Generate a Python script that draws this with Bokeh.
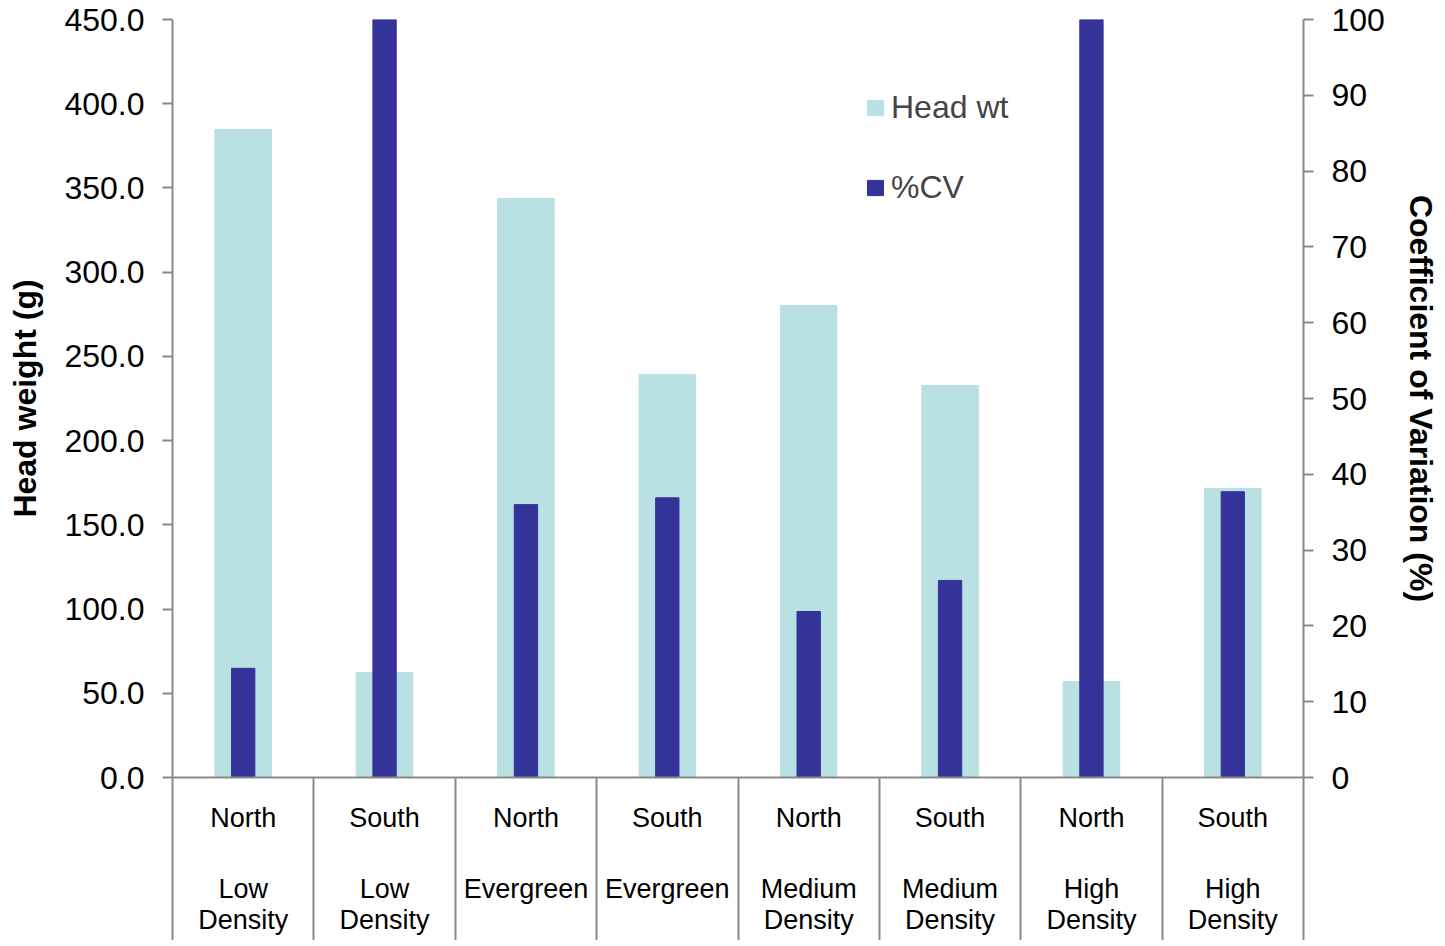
from bokeh.plotting import figure
from bokeh.models import (Range1d, LinearAxis, FixedTicker, NumeralTickFormatter,
                          Legend, LegendItem, ColumnDataSource)
from bokeh.embed import file_html
from bokeh.resources import INLINE

# ---- data ----
regions = ["North", "South", "North", "South", "North", "South", "North", "South"]
groups = ["Low\nDensity", "Low\nDensity", "Evergreen", "Evergreen",
          "Medium\nDensity", "Medium\nDensity", "High\nDensity", "High\nDensity"]
head_wt = [384.7, 62.3, 343.7, 239.3, 280.2, 232.7, 57.0, 171.6]
cv_pct = [14.4, 120.0, 36.0, 36.9, 21.9, 26.0, 120.0, 37.7]
left_ticks = [0, 50, 100, 150, 200, 250, 300, 350, 400, 450]
right_ticks = [0, 10, 20, 30, 40, 50, 60, 70, 80, 90, 100]

FONT = "Liberation Sans"
GRAY = "#898989"
HEAD_COLOR = "#B9E0E3"
CV_COLOR = "#333399"

n = len(regions)
centers = [i + 0.5 for i in range(n)]
bounds = list(range(n + 1))

src = ColumnDataSource(dict(x=centers, head=head_wt, cv=cv_pct))

W, H = 1442, 940
p = figure(width=W, height=H, output_backend="svg", toolbar_location=None,
           x_range=Range1d(0, n), y_range=Range1d(0, 450),
           x_axis_type=None, y_axis_type=None,
           min_border_left=172, min_border_right=W - 1303, min_border_top=19,
           min_border_bottom=H - 777)
p.extra_y_ranges = {"cv": Range1d(0, 100)}
p.outline_line_color = None
p.background_fill_color = "white"

r1 = p.vbar(x="x", top="head", width=0.40, source=src, color=HEAD_COLOR)
r2 = p.vbar(x="x", top="cv", width=0.165, source=src, color=CV_COLOR, y_range_name="cv")

def style_axis(ax):
    ax.axis_line_color = GRAY
    ax.axis_line_width = 2
    ax.major_tick_line_color = GRAY
    ax.major_tick_line_width = 2
    ax.minor_tick_line_color = None
    ax.major_label_text_font = FONT
    ax.major_label_text_color = "black"
    ax.axis_label_text_font = FONT
    ax.axis_label_text_font_style = "bold"
    ax.axis_label_text_color = "black"

left = LinearAxis(ticker=FixedTicker(ticks=left_ticks),
                  formatter=NumeralTickFormatter(format="0.0"),
                  axis_label="Head weight (g)")
style_axis(left)
left.major_tick_out = 10
left.major_tick_in = 0
left.major_label_standoff = 18
left.major_label_text_font_size = "32px"
left.axis_label_text_font_size = "32px"
left.axis_label_standoff = 18
p.add_layout(left, "left")

right = LinearAxis(y_range_name="cv", ticker=FixedTicker(ticks=right_ticks),
                   axis_label="Coefficient of Variation (%)")
style_axis(right)
right.major_tick_out = 10
right.major_tick_in = 0
right.major_label_standoff = 18
right.major_label_text_font_size = "32px"
right.axis_label_text_font_size = "32px"
right.axis_label_standoff = 15
p.add_layout(right, "right")

bottom1 = LinearAxis(ticker=FixedTicker(ticks=centers, minor_ticks=bounds),
                     major_label_overrides={c: r for c, r in zip(centers, regions)})
style_axis(bottom1)
bottom1.major_tick_line_color = None
bottom1.major_tick_out = 0
bottom1.major_tick_in = 0
bottom1.minor_tick_line_color = GRAY
bottom1.minor_tick_line_width = 2
bottom1.minor_tick_out = 175
bottom1.minor_tick_in = 0
bottom1.major_label_standoff = -150
bottom1.major_label_text_font_size = "27px"
p.add_layout(bottom1, "below")

bottom2 = LinearAxis(ticker=FixedTicker(ticks=centers, minor_ticks=[]),
                     major_label_overrides={c: g for c, g in zip(centers, groups)})
style_axis(bottom2)
bottom2.axis_line_color = None
bottom2.major_tick_line_color = None
bottom2.major_tick_out = 0
bottom2.major_tick_in = 0
bottom2.major_label_standoff = 38
bottom2.major_label_text_font_size = "27px"
bottom2.major_label_text_line_height = 1.06
p.add_layout(bottom2, "below")

legend = Legend(items=[LegendItem(label="Head wt", renderers=[r1]),
                       LegendItem(label="%CV", renderers=[r2])],
                location=(693, 571), orientation="vertical",
                glyph_width=20, glyph_height=19, label_height=36,
                spacing=43, padding=0, margin=0, label_standoff=6,
                border_line_color=None, background_fill_alpha=0,
                label_text_font=FONT, label_text_font_size="32px")
p.add_layout(legend, "center")

open("out.html", "w").write(file_html(p, INLINE))
